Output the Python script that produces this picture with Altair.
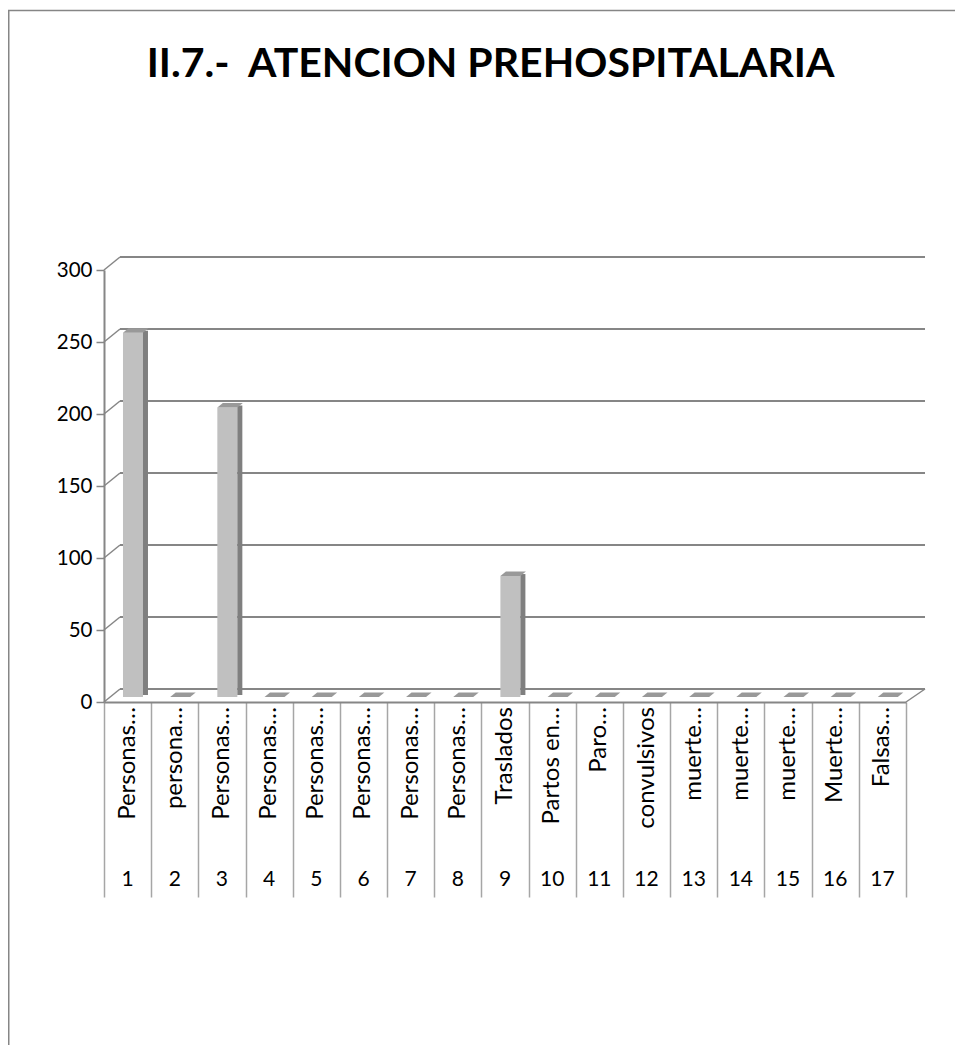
import altair as alt
import pandas as pd

# ---- data ----
categories = [str(i) for i in range(1, 18)]
labels = ["Personas…", "persona…", "Personas…", "Personas…", "Personas…",
          "Personas…", "Personas…", "Personas…", "Traslados", "Partos en…",
          "Paro…", "convulsivos", "muerte…", "muerte…", "muerte…",
          "Muerte…", "Falsas…"]
values = [253, 0, 201, 0, 0, 0, 0, 0, 84, 0, 0, 0, 0, 0, 0, 0, 0]
y_ticks = [0, 50, 100, 150, 200, 250, 300]
title_text = "II.7.-\u00a0 ATENCION PREHOSPITALARIA"

# non-truncated labels sit a little lower in the reference
labels_disp = [l if l.endswith("…") else l + "\u00a0\u00a0\u00a0" for l in labels]

df = pd.DataFrame({
    "idx": list(range(1, len(categories) + 1)),
    "num": categories,
    "label": labels_disp,
    "value": values,
})
grid_df = pd.DataFrame({"v": y_ticks})
one = pd.DataFrame({"t": [title_text]})

W, H = 802, 432
FONT = "Lato"
GRID = "#868686"

xscale = alt.Scale(domain=[0.5, len(categories) + 0.5], nice=False, zero=False)
yscale = alt.Scale(domain=[0, 300], nice=False)

xaxis = alt.Axis(values=[i + 0.5 for i in range(len(categories) + 1)], labels=False,
                 tickSize=195, tickColor="#a6a6a6", tickWidth=1.5,
                 domainColor=GRID, domainWidth=2, grid=False, title=None)
yaxis = alt.Axis(values=y_ticks, tickSize=8, tickColor=GRID, tickWidth=1.5,
                 domainColor=GRID, domainWidth=2, grid=False, title=None,
                 labelFont=FONT, labelFontSize=20.5, labelColor="black", labelPadding=4)

X = alt.X("idx:Q", scale=xscale, axis=xaxis)
YV = alt.Y("value:Q", scale=yscale, axis=yaxis)

border = alt.Chart(one).mark_rect(fillOpacity=0, stroke=GRID, strokeWidth=1.5).encode(
    x=alt.value(-95.25), x2=alt.value(W + 300), y=alt.value(-259.5), y2=alt.value(H + 700))

title = alt.Chart(one).mark_text(font=FONT, fontSize=41, fontWeight="bold", color="black",
                                 align="center", baseline="alphabetic").encode(
    x=alt.value(386.5), y=alt.value(-193), text="t:N")

back_grid = alt.Chart(grid_df).mark_rule(color=GRID, strokeWidth=2.2, yOffset=-13).encode(
    y=alt.Y("v:Q", scale=yscale, axis=yaxis), x=alt.value(16), x2=alt.value(W + 19))

left_diag = alt.Chart(grid_df).mark_rule(color=GRID, strokeWidth=1.5, y2Offset=-13).encode(
    y=alt.Y("v:Q", scale=yscale, axis=yaxis), y2="v:Q", x=alt.value(0), x2=alt.value(16))

floor_diag = alt.Chart(pd.DataFrame({"z": [0]})).mark_rule(
    color=GRID, strokeWidth=1.5, y2Offset=-13).encode(
    y=alt.Y("z:Q", scale=yscale, axis=yaxis), y2="z:Q",
    x=alt.value(W), x2=alt.value(W + 19))

front = alt.Chart(df).mark_rect(color="#c0c0c0", xOffset=-4.6, x2Offset=15.4,
                                yOffset=-5, y2Offset=-5).encode(
    x=X, x2="idx:Q", y=YV, y2=alt.datum(0))

side = alt.Chart(df).mark_rect(color="#7f7f7f", xOffset=15.4, x2Offset=20.4,
                               yOffset=-7, y2Offset=-7).encode(
    x=X, x2="idx:Q", y=YV, y2=alt.datum(0))

top_face = alt.Chart(df).mark_point(
    shape="M-1,0 L1,0 L1.55,-0.45 L-0.45,-0.45 Z", size=400, filled=True,
    color="#999999", opacity=1, strokeWidth=0, xOffset=5.4, yOffset=-5).encode(
    x=X, y=YV)

cat_text = alt.Chart(df).mark_text(angle=270, align="right", baseline="middle",
                                   font=FONT, fontSize=24, color="black").encode(
    x=X, y=alt.value(H + 5), text="label:N")

num_text = alt.Chart(df).mark_text(align="center", baseline="middle",
                                   font=FONT, fontSize=21, color="black").encode(
    x=X, y=alt.value(H + 178), text="num:N")

chart = alt.layer(border, title, back_grid, left_diag, floor_diag, front, side, top_face,
                  cat_text, num_text).properties(
    width=W, height=H,
    autosize=alt.AutoSizeParams(type="none"),
    padding={"left": 96, "top": 262, "right": 947 - 96 - W, "bottom": 1037 - 262 - H},
).configure_view(stroke=None)

chart.save("out.html", embed_options={"renderer": "svg", "actions": False})
